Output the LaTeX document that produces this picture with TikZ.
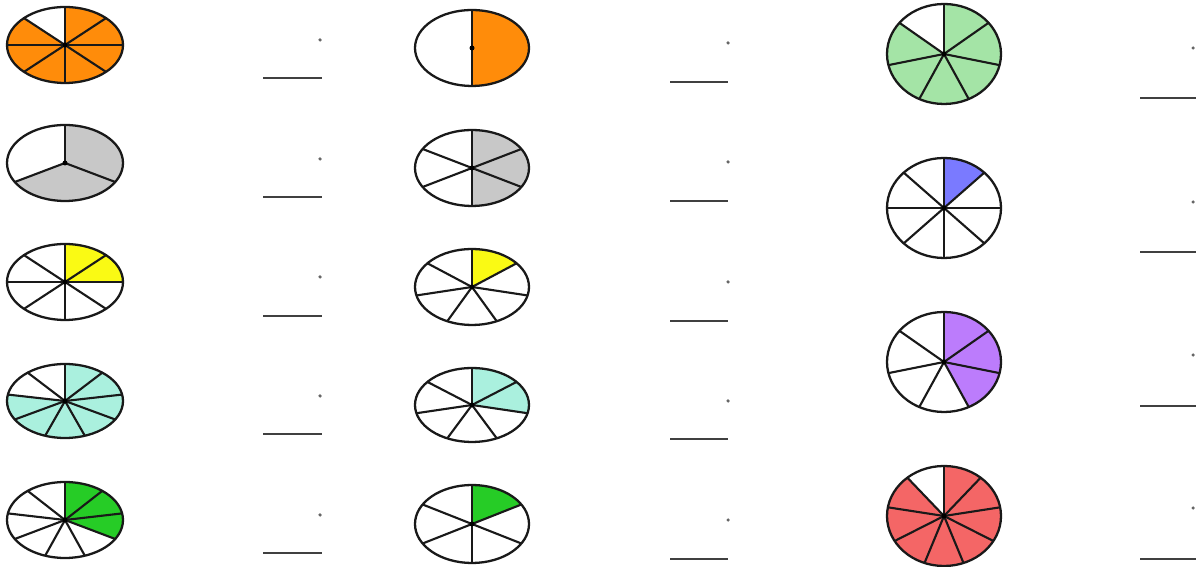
\documentclass[tikz,border=0pt]{standalone}
\usepackage{xcolor}
\usepackage{tikz}
\usetikzlibrary{positioning}
\definecolor{pieorange}{RGB}{255,140,10}
\definecolor{piegray}{RGB}{200,200,200}
\definecolor{pieyellow}{RGB}{250,250,20}
\definecolor{pieaqua}{RGB}{170,240,222}
\definecolor{piegreen}{RGB}{38,204,38}
\definecolor{pielight}{RGB}{164,228,166}
\definecolor{pieblue}{RGB}{122,122,255}
\definecolor{piepurple}{RGB}{188,124,252}
\definecolor{piered}{RGB}{244,102,102}
\definecolor{linegray}{gray}{0.25}

% name, x, y, x radius, y radius, parts, shaded parts, colour
\newcommand{\fracpie}[8]{%
  \coordinate (#1) at (#2,#3);
  \begin{scope}[shift={(#1)}]
    \fill[#8] (0,0) -- (90:#4 and #5)
      arc[start angle=90, end angle={90-360*#7/#6}, x radius=#4, y radius=#5] -- cycle;
    \foreach \i in {1,...,#6}
      \draw[spoke] (0,0) -- ({90-360*\i/#6}:#4 and #5);
    \draw[rim] (0,0) ellipse[x radius=#4, y radius=#5];
    \fill (0,0) circle[radius=2.5];
  \end{scope}}

\begin{document}
\begin{tikzpicture}[
  x=0.02cm, y=0.02cm,
  rim/.style={draw=black!90,line width=1.3pt},
  spoke/.style={draw=black!90,line width=1.2pt},
  blank/.style={draw=linegray,line width=1.5pt},
  dot/.style={circle,fill=linegray!80,inner sep=0pt,minimum size=2pt}
]
\useasboundingbox (0,0) rectangle (1196,567);

\fracpie{p11}{65}{522}{58}{38}{8}{7}{pieorange}
\fracpie{p12}{65}{404}{58}{38}{3}{2}{piegray}
\fracpie{p13}{65}{285}{58}{38}{8}{2}{pieyellow}
\fracpie{p14}{65}{166}{58}{37}{9}{7}{pieaqua}
\fracpie{p15}{65}{47}{58}{38}{9}{3}{piegreen}

\fracpie{p21}{472}{519}{57}{38}{2}{1}{pieorange}
\fracpie{p22}{472}{399}{57}{38}{6}{3}{piegray}
\fracpie{p23}{472}{280}{57}{38}{7}{1}{pieyellow}
\fracpie{p24}{472}{162}{57}{37}{7}{2}{pieaqua}
\fracpie{p25}{472}{43}{57}{39}{6}{1}{piegreen}

\fracpie{p31}{944}{513}{57}{50}{7}{6}{pielight}
\fracpie{p32}{944}{359}{57}{50}{8}{1}{pieblue}
\fracpie{p33}{944}{205}{57}{50}{7}{3}{piepurple}
\fracpie{p34}{944}{51}{57}{50}{9}{8}{piered}

\coordinate (a11) at (263,489); \coordinate (b11) at (322,489);
\coordinate (a12) at (263,370); \coordinate (b12) at (322,370);
\coordinate (a13) at (263,251); \coordinate (b13) at (322,251);
\coordinate (a14) at (263,133); \coordinate (b14) at (322,133);
\coordinate (a15) at (263,14);  \coordinate (b15) at (322,14);
\coordinate (a21) at (670,485); \coordinate (b21) at (728,485);
\coordinate (a22) at (670,366); \coordinate (b22) at (728,366);
\coordinate (a23) at (670,246); \coordinate (b23) at (728,246);
\coordinate (a24) at (670,128); \coordinate (b24) at (728,128);
\coordinate (a25) at (670,8);   \coordinate (b25) at (728,8);
\coordinate (a31) at (1140,469); \coordinate (b31) at (1196,469);
\coordinate (a32) at (1140,315); \coordinate (b32) at (1196,315);
\coordinate (a33) at (1140,161); \coordinate (b33) at (1196,161);
\coordinate (a34) at (1140,8);   \coordinate (b34) at (1196,8);

\foreach \r in {11,12,13,14,15,21,22,23,24,25,31,32,33,34}
  \draw[blank] (a\r) -- (b\r);

\node[dot] (d11) at (320,527) {};
\node[dot] (d12) at (320,408) {};
\node[dot] (d13) at (320,290) {};
\node[dot] (d14) at (320,171) {};
\node[dot] (d15) at (320,52) {};
\node[dot] (d21) at (728,524) {};
\node[dot] (d22) at (728,405) {};
\node[dot] (d23) at (728,285) {};
\node[dot] (d24) at (728,166) {};
\node[dot] (d25) at (728,47) {};
\node[dot] (d31) at (1193,519) {};
\node[dot] (d32) at (1193,365) {};
\node[dot] (d33) at (1193,212) {};
\node[dot] (d34) at (1193,59) {};
\end{tikzpicture}
\end{document}
